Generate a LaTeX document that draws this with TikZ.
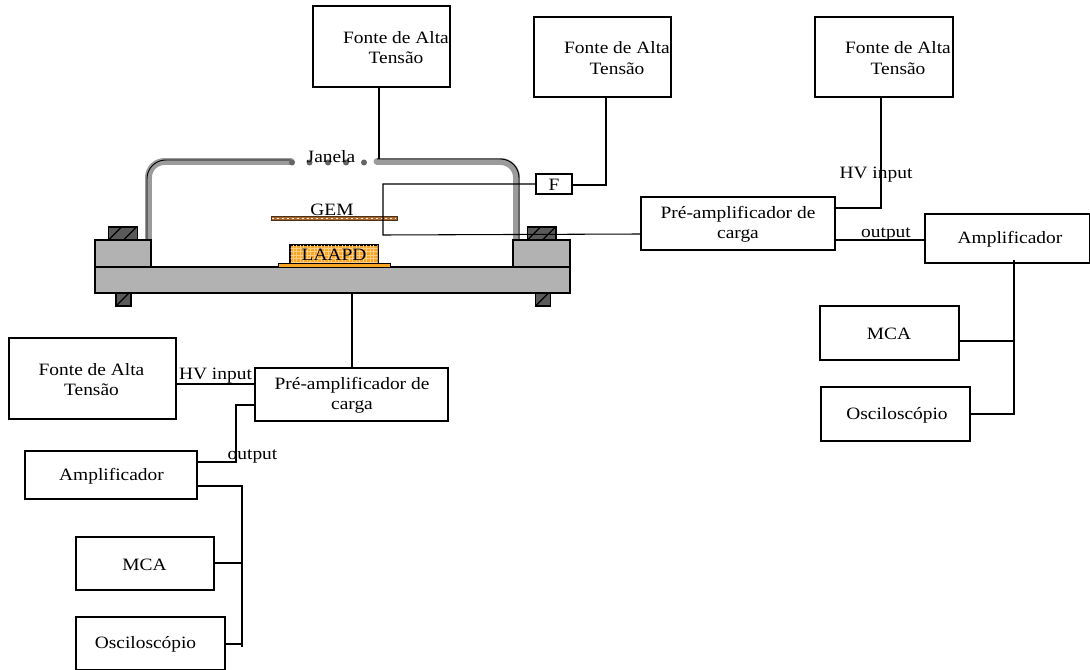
\documentclass[tikz,border=0pt]{standalone}
\usepackage{fontspec}
\setmainfont[FakeStretch=1.12]{Liberation Serif}
\definecolor{basegrey}{RGB}{178,178,178}
\definecolor{chamber}{RGB}{155,155,155}
\definecolor{boltgrey}{RGB}{90,90,90}
\definecolor{dotgrey}{RGB}{100,100,100}
\definecolor{laapd}{RGB}{250,165,35}
\definecolor{gembrown}{RGB}{170,105,50}
\tikzset{
  x=0.75pt,y=-0.75pt,
  labelbox/.style={draw=black,line width=0.8pt,inner sep=0pt},
  boxtext/.style={inner sep=0pt,align=center,yshift=-0.75pt,font=\fontsize{13}{15.4}\selectfont},
  wire/.style={draw=black,line width=0.8pt},
  lab/.style={inner sep=0pt,font=\fontsize{13}{15.4}\selectfont},
  solid part/.style={draw=black,line width=0.8pt,fill=basegrey},
  bolt/.style={draw=black,line width=0.8pt,fill=boltgrey},
  windowdot/.style={circle,fill=dotgrey,inner sep=0pt,minimum size=4.5pt}
}
% name, text, x1,y1,x2,y2, text centre x
\newcommand{\rbox}[7]{%
  \node[labelbox,minimum width=#5*0.75pt-#3*0.75pt,minimum height=#6*0.75pt-#4*0.75pt] (#1) at ({(#3+#5)/2},{(#4+#6)/2}) {};
  \node[boxtext] (#1t) at (#7,{(#4+#6)/2}) {#2};}
\begin{document}
\begin{tikzpicture}
\useasboundingbox (0,0) rectangle (1090,670);
% chamber
\draw[chamber,line width=5.2pt,line cap=round,rounded corners=12pt] (148.5,240) -- (148.5,161.5) -- (291,161.5);
\draw[chamber,line width=5.2pt,line cap=round,rounded corners=12pt] (377,161.5) -- (516.5,161.5) -- (516.5,240);
\draw[black,line width=0.7pt,rounded corners=14pt] (147,240) -- (147,160) -- (291,160);
\draw[black,line width=0.7pt,rounded corners=14pt] (377,159) -- (519,159) -- (519,240);
\foreach \i/\xx in {a/292,b/309.5,c/328,d/346,e/364}{\node[windowdot] (dot\i) at (\xx,162.5) {};}
% base
\draw[solid part] (95,240) rectangle (151,267);
\draw[solid part] (513,240) rectangle (570,267);
\draw[solid part] (95,267) rectangle (570,293);
% bolts
\foreach \xa/\ya/\xb/\yb in {108.5/227/137.5/240,527.5/227/556/240,116/293/131/306,535.5/293/550.5/306}{
  \draw[bolt] (\xa,\ya) rectangle (\xb,\yb);
  \begin{scope}
    \clip (\xa,\ya) rectangle (\xb,\yb);
    \draw[black,line width=0.8pt] (\xa,\yb) -- ++(14,-14);
    \draw[black,line width=0.8pt] (\xa,\yb) ++(15,0) -- ++(14,-14);
  \end{scope}
}
% GEM
\draw[black!55!gembrown,line width=0.5pt,fill=gembrown] (271,216.5) rectangle (397,220.5);
\draw[white!85!orange,line width=1pt,dash pattern=on 1.5pt off 2.2pt] (272,218.5) -- (396,218.5);
% LAAPD
\draw[black,line width=0.7pt,fill=laapd] (278,263) rectangle (390,267);
\draw[black,line width=0.8pt,fill=laapd] (290,245) rectangle (378,263);
\begin{scope}
\clip (290.5,245.5) rectangle (377.5,262.5);
\foreach \gx in {293,296.5,...,378}{\draw[white!45!laapd,line width=0.4pt] (\gx,245) -- (\gx,263);}
\foreach \gy in {248,251.5,...,263}{\draw[white!45!laapd,line width=0.4pt] (290,\gy) -- (378,\gy);}
\end{scope}
% boxes
\rbox{ftop}{Fonte de Alta\\Tensão}{313}{6}{450}{87}{396}
\rbox{fmid}{Fonte de Alta\\Tensão}{534}{17}{671}{97}{617}
\rbox{fright}{Fonte de Alta\\Tensão}{815}{17}{953}{97}{898}
\rbox{F}{F}{536}{174}{572}{194}{554}
\rbox{pre}{Pré-amplificador de\\carga}{641}{197}{835}{250}{738}
\rbox{amp}{Amplificador}{925}{214}{1089.6}{263}{1010}
\rbox{mca}{MCA}{820}{306}{959}{360}{889}
\rbox{osc}{Osciloscópio}{821}{387}{970}{441}{897}
\rbox{fleft}{Fonte de Alta\\Tensão}{9}{338}{176}{419}{91.5}
\rbox{prel}{Pré-amplificador de\\carga}{255}{368}{448}{421}{352}
\rbox{ampl}{Amplificador}{25}{451}{197}{499}{111.5}
\rbox{mcal}{MCA}{76}{537}{214}{590}{144.5}
\rbox{oscl}{Osciloscópio}{76}{617}{225}{669.6}{145.5}
% text labels
\node[lab] (janela) at (331,157) {Janela};
\node[lab] (gem) at (332,210) {GEM};
\node[lab] (laapdt) at (334,255) {LAAPD};
\node[lab] (hvr) at (876,175) {HV input};
\node[lab] (outr) at (886,234) {output};
\node[lab] (hvl) at (215.5,376) {HV input};
\node[lab] (outl) at (252.5,456) {output};
% named ends
\coordinate (topend) at (379,159);
\coordinate (gemA) at (383,184);
\coordinate (baseB) at (352,293);
% connectors
\draw[wire] (ftop.south -| topend) -- (topend);
\draw[wire] (606,97) -- (606,185) -- (572,185);
\draw[wire] (F.west) -- (gemA) -- (383,235) -- (641,234);
\draw[wire] (881,97) -- (881,208) -- (835,208);
\draw[wire] (835,240) -- (925,240);
\draw[wire] (1014,260) -- (1014,414) -- (970,414);
\draw[wire] (959,341) -- (1014,341);
\draw[wire] (baseB) -- (352,368);
\draw[wire] (176,384) -- (255,384);
\draw[wire] (255,405) -- (236,405) -- (236,462) -- (197,462);
\draw[wire] (197,486) -- (242,486) -- (242,647);
\draw[wire] (214,563) -- (242,563);
\draw[wire] (225,644) -- (242,644);
\end{tikzpicture}
\end{document}
